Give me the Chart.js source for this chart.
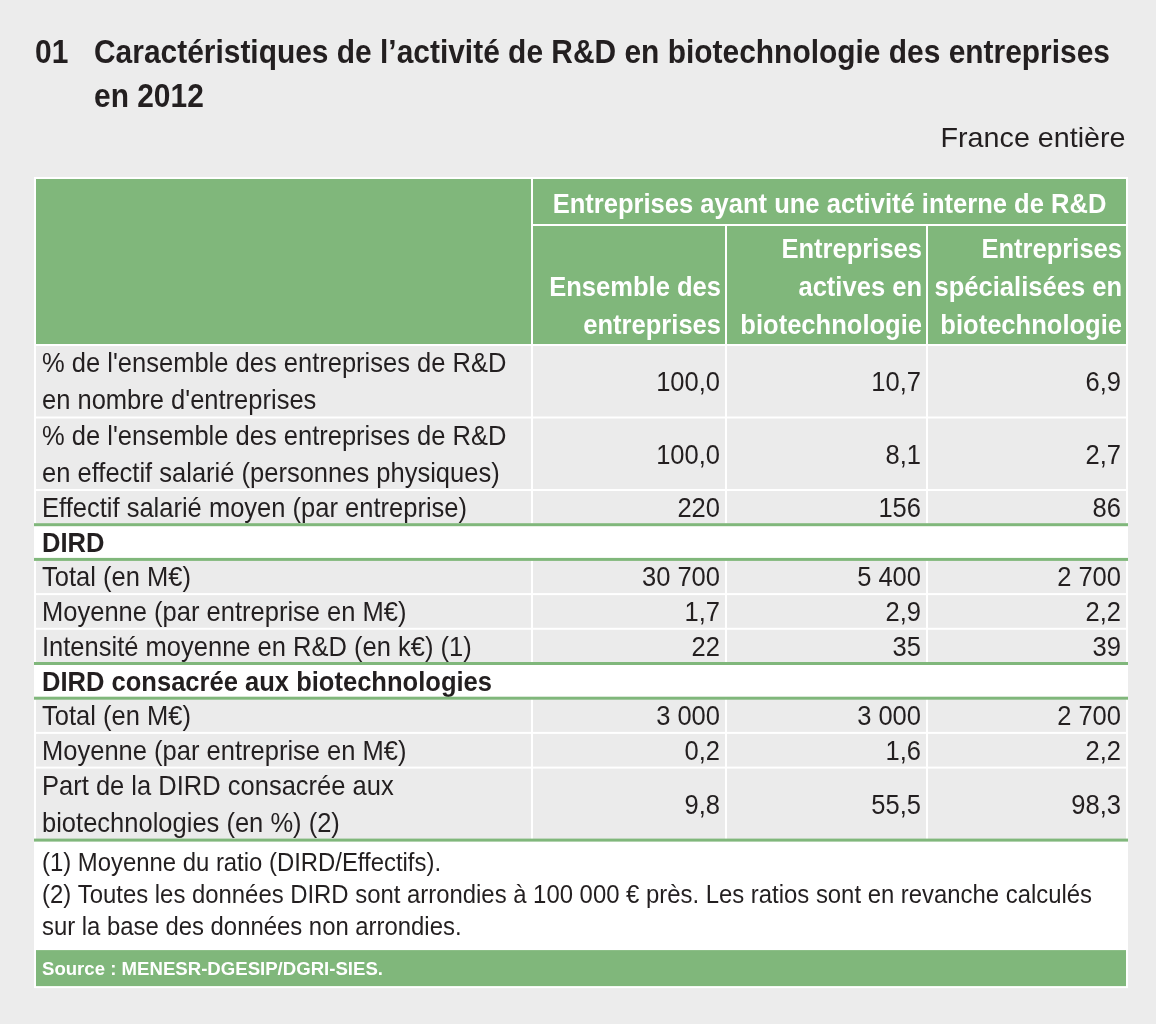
<!DOCTYPE html>
<html>
<head>
<meta charset="utf-8">
<script src="https://cdn.jsdelivr.net/npm/chart.js@4/dist/chart.umd.min.js"></script>
<style>
    body { margin: 0; background: #ececec; }
    #wrap { position: relative; width: 1156px; height: 1024px; }
    #myChart { position: absolute; left: 0; top: 0; }
    .narrow { font-family: "Liberation Sans", Arial, sans-serif; color: #231f20; }
    #title { position: absolute; left: 35px; top: 30px; font-size: 33px; font-weight: bold; line-height: 44px; }
    #title .num { position: absolute; left: 0; top: 0; transform-origin: left top; }
    #title .txt { position: absolute; left: 59px; top: 0; white-space: nowrap; transform-origin: left top; }
    #zone { position: absolute; right: 30px; top: 123px; font-size: 28px; line-height: 30px; white-space: nowrap; transform-origin: right top; }
</style>
</head>
<body>
<div id="wrap">
    <canvas id="myChart" width="1156" height="1024"></canvas>
    <div id="title" class="narrow"><span class="num">01</span><span class="txt"><span id="t1">Caractéristiques de l’activité de R&amp;D en biotechnologie des entreprises</span><br>en 2012</span></div>
    <div id="zone" class="narrow">France entière</div>
</div>
<script>
// table content
const groupHeader = 'Entreprises ayant une activité interne de R&D';
const columnHeaders = [
    ['Ensemble des', 'entreprises'],
    ['Entreprises', 'actives en', 'biotechnologie'],
    ['Entreprises', 'spécialisées en', 'biotechnologie']
];
const rowLabels = [
    ["% de l'ensemble des entreprises de R&D", "en nombre d'entreprises"],
    ["% de l'ensemble des entreprises de R&D", "en effectif salarié (personnes physiques)"],
    ['Effectif salarié moyen (par entreprise)'],
    ['DIRD'],
    ['Total (en M€)'],
    ['Moyenne (par entreprise en M€)'],
    ['Intensité moyenne en R&D (en k€) (1)'],
    ['DIRD consacrée aux biotechnologies'],
    ['Total (en M€)'],
    ['Moyenne (par entreprise en M€)'],
    ['Part de la DIRD consacrée aux', 'biotechnologies (en %) (2)']
];
// null = section title row
const rowDecimals = [1, 1, 0, null, 0, 1, 0, null, 0, 1, 1];
const ensembleValues = [100.0, 100.0, 220, null, 30700, 1.7, 22, null, 3000, 0.2, 9.8];
const activesValues = [10.7, 8.1, 156, null, 5400, 2.9, 35, null, 3000, 1.6, 55.5];
const specialiseesValues = [6.9, 2.7, 86, null, 2700, 2.2, 39, null, 2700, 2.2, 98.3];
const notes = [
    '(1) Moyenne du ratio (DIRD/Effectifs).',
    '(2) Toutes les données DIRD sont arrondies à 100 000 € près. Les ratios sont en revanche calculés',
    'sur la base des données non arrondies.'
];
const sourceText = 'Source : MENESR-DGESIP/DGRI-SIES.';

const FONT = '"Liberation Sans", Arial, sans-serif';
const GREEN = '#80b77b';
const GREY = '#ebebeb';
const INK = '#231f20';

// layout in table units (1 unit = 1px)
const colEdges = [0, 497, 691, 892, 1092];
const headTop = 47, headBottom = 167;
const notesHeight = 109, sourceHeight = 38;

// no condensed face installed: squeeze the normal one
var mc = document.createElement('canvas').getContext('2d');
function widthOf(t, f) { mc.font = f; return mc.measureText(t).width; }
const SX = 425 / widthOf('Effectif salarié moyen (par entreprise)', '28px ' + FONT);
const SXB = 450 / widthOf('DIRD consacrée aux biotechnologies', 'bold 28px ' + FONT);
const SXN = 1050 / widthOf(notes[1], '26px ' + FONT);
const SXS = 341 / widthOf(sourceText, 'bold 19px ' + FONT);
const SXT = 1016 / widthOf(document.getElementById('t1').textContent, 'bold 33px ' + FONT);
const SXZ = 185 / widthOf('France entière', '28px ' + FONT);

document.querySelector('#title .num').style.transform = 'scaleX(' + SXT + ')';
document.querySelector('#title .txt').style.transform = 'scaleX(' + SXT + ')';
document.getElementById('zone').style.transform = 'scaleX(' + SXZ + ')';

function fmt(v, dec) {
    let s = v.toFixed(dec).replace('.', ',');
    let parts = s.split(',');
    parts[0] = parts[0].replace(/\B(?=(\d{3})+(?!\d))/g, ' ');
    return parts.join(',');
}

var rowEdges = [headBottom];
rowLabels.forEach(function (l) {
    rowEdges.push(rowEdges[rowEdges.length - 1] + (l.length == 2 ? 72.5 : 34.7));
});
const notesTop = rowEdges[rowEdges.length - 1];
const tableBottom = notesTop + notesHeight + sourceHeight;

const tablePlugin = {
    id: 'table',
    afterDraw(chart) {
        const c = chart.ctx;
        const x = chart.scales.x, y = chart.scales.y;
        const px = v => x.getPixelForValue(v);
        const py = v => y.getPixelForValue(v);
        const cols = [ensembleValues, activesValues, specialiseesValues];

        function cell(x0, x1, y0, y1, color) {
            c.fillStyle = color;
            c.fillRect(px(x0) + 1, py(y0) + 1, px(x1) - px(x0) - 2, py(y1) - py(y0) - 2);
        }
        function greenLine(v) {
            c.fillStyle = GREEN;
            c.fillRect(px(0) - 1, py(v) - 1.5, px(1092) - px(0) + 2, 3);
        }
        function text(t, tx, ty, align, font, sx, color) {
            c.save();
            c.font = font + ' ' + FONT;
            c.fillStyle = color;
            c.textAlign = align;
            c.textBaseline = 'alphabetic';
            c.translate(tx, ty);
            c.scale(sx, 1);
            c.fillText(t, 0, 0);
            c.restore();
        }

        c.save();
        c.fillStyle = '#ffffff';
        c.fillRect(px(0) - 1, py(0) - 1, px(1092) - px(0) + 2, py(tableBottom) - py(0) + 2);

        // header
        cell(colEdges[0], colEdges[1], 0, headBottom, GREEN);
        cell(colEdges[1], colEdges[4], 0, headTop, GREEN);
        for (let i = 1; i < 4; i++) cell(colEdges[i], colEdges[i + 1], headTop, headBottom, GREEN);

        text(groupHeader, (px(colEdges[1]) + px(colEdges[4])) / 2, py(35), 'center', 'bold 28px', SXB, '#fff');
        columnHeaders.forEach(function (lines, i) {
            lines.forEach(function (t, j) {
                let k = lines.length - 1 - j;
                text(t, px(colEdges[i + 2]) - 5, py(headBottom - 11 - k * 38), 'right', 'bold 28px', SXB, '#fff');
            });
        });

        // body
        rowLabels.forEach(function (lines, r) {
            let top = rowEdges[r], bot = rowEdges[r + 1];
            let section = rowDecimals[r] === null;
            if (!section) {
                for (let i = 0; i < 4; i++) cell(colEdges[i], colEdges[i + 1], top, bot, GREY);
            }
            lines.forEach(function (t, j) {
                text(t, px(7), py(top + 27 + j * 37), 'left', section ? 'bold 28px' : '28px', section ? SXB : SX, INK);
            });
            if (!section) {
                let base = lines.length == 2 ? (top + bot) / 2 + 10 : top + 27;
                cols.forEach(function (vals, i) {
                    text(fmt(vals[r], rowDecimals[r]), px(colEdges[i + 2]) - 6, py(base), 'right', '28px', SX, INK);
                });
            }
        });
        rowLabels.forEach(function (l, r) {
            if (rowDecimals[r] === null) { greenLine(rowEdges[r]); greenLine(rowEdges[r + 1]); }
        });
        greenLine(notesTop);

        // notes
        notes.forEach(function (t, j) {
            text(t, px(7), py(notesTop + 31 + j * 32), 'left', '26px', SXN, INK);
        });

        // source
        cell(0, 1092, notesTop + notesHeight, tableBottom, GREEN);
        text(sourceText, px(7), py(tableBottom - 12), 'left', 'bold 19px', SXS, '#fff');
        c.restore();
    }
};

const ctx = document.getElementById('myChart');
var myChart = new Chart(ctx, {
    type: 'scatter',
    data: { datasets: [] },
    options: {
        responsive: false,
        animation: false,
        devicePixelRatio: 1,
        layout: { padding: { left: 35, right: 29, top: 178, bottom: 1024 - 178 - tableBottom } },
        scales: {
            x: { type: 'linear', min: 0, max: 1092, display: false },
            y: { type: 'linear', min: 0, max: tableBottom, reverse: true, display: false }
        },
        plugins: { legend: { display: false }, tooltip: { enabled: false } }
    },
    plugins: [tablePlugin]
});
</script>
</body>
</html>
